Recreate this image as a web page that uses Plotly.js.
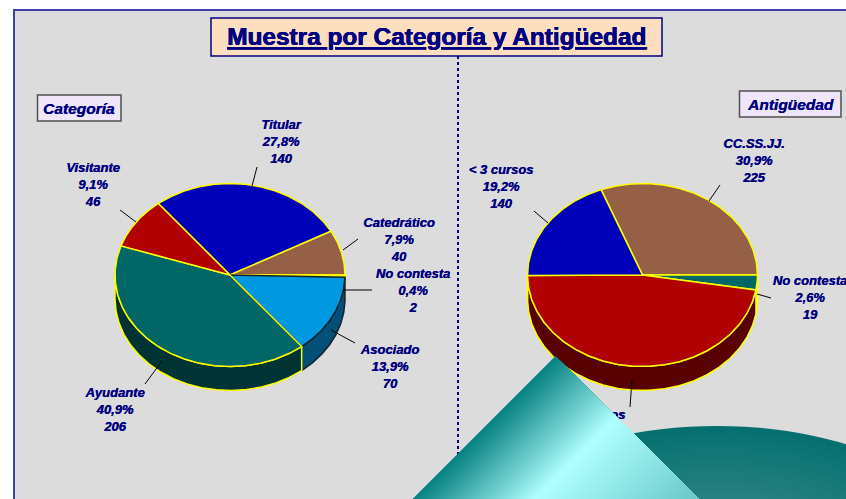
<!DOCTYPE html>
<html><head><meta charset="utf-8">
<script src="https://cdn.plot.ly/plotly-3.0.1.min.js"></script>
<style>html,body{margin:0;padding:0;background:#fff;overflow:hidden}#c{width:846px;height:499px}</style>
</head><body><div id="c"></div>
<script>
// ---- data ----
const catNames  = ['Titular','Catedrático','No contesta','Asociado','Ayudante','Visitante'];
const catValues = [140,40,2,70,206,46];
const catPct    = ['27,8%','7,9%','0,4%','13,9%','40,9%','9,1%'];
const antNames  = ['CC.SS.JJ.','No contesta','> 3 cursos','< 3 cursos'];
const antValues = [225,19,345,140];
const antPct    = ['30,9%','2,6%','47,3%','19,2%'];

// ---- styles and positions ----
const catFill = ['#0000b8','#956045','#e8e800','#0098e0','#006666','#b00000'];
const catWall = ['#000060','#4a3022','#808000','#005078','#003333','#580000'];
const catLine = ['#ffff00','#ffff00','#ffff00','#102030','#ffff00','#ffff00'];
const antFill = ['#956045','#006666','#b00000','#0000b8'];
const antWall = ['#4a3022','#003333','#580000','#000060'];
const antLine = ['#ffff00','#ffff00','#ffff00','#ffff00'];
const catLabelPos = [[281,142.5],[399,241],[413,291.5],[390,368],[115,411],[93,186]];
const antLabelPos = [[754,162],[810,299],[593,433],[501,188]];
const catLeaders = [[257,167,252,186],[358,239,343,250],[372,290,343,290],[355,343,331,330],[145,384,162,361],[120,210,136,222]];
const antLeaders = [[720,185,709,201],[771,298,757,294],[632,380,630,407],[534,211,548,223]];
const NAVY = '#000080', RX = 115, RY = 91.5, DEPTH = 24;
const FONT = 'Liberation Sans, Arial, sans-serif', THICK = '0.35px 0 0 #000080';

function arc(cx,cy,a0,a1){
  const xs=[],ys=[],n=Math.max(2,Math.ceil((a1-a0)/8));
  for(let i=0;i<=n;i++){const a=(a0+(a1-a0)*i/n)*Math.PI/180;xs.push(cx+RX*Math.sin(a));ys.push(cy-RY*Math.cos(a));}
  return [xs,ys];
}
function pie(cx,cy,values,startDeg,fills,walls,lines){
  const total=values.reduce((a,b)=>a+b,0), walltr=[], tops=[];
  let a=startDeg;
  values.forEach((v,i)=>{
    const a1=a+v/total*360;
    const lo=Math.max(a,90), hi=Math.min(a1,270);
    if(hi>lo){
      const [x,y]=arc(cx,cy,lo,hi);
      walltr.push({x:x.concat(x.slice().reverse(),[x[0]]),y:y.concat(y.map(q=>q+DEPTH).reverse(),[y[0]]),
        mode:'lines',fill:'toself',fillcolor:walls[i],line:{color:lines[i],width:1.5},hoverinfo:'skip',showlegend:false});
    }
    const [x,y]=arc(cx,cy,a,a1);
    tops.push({x:[cx].concat(x,[cx]),y:[cy].concat(y,[cy]),mode:'lines',fill:'toself',fillcolor:fills[i],
      line:{color:lines[i],width:1.5},hoverinfo:'skip',showlegend:false});
    a=a1;
  });
  return walltr.concat(tops);
}
function leaders(list){
  const x=[],y=[];list.forEach(l=>{x.push(l[0],l[2],null);y.push(l[1],l[3],null);});
  return {x,y,mode:'lines',line:{color:'#000000',width:1},hoverinfo:'skip',showlegend:false};
}
function labels(names,pct,vals,pos){
  return {x:pos.map(p=>p[0]),y:pos.map(p=>p[1]),mode:'text',
    text:names.map((n,i)=>n+'<br>'+pct[i]+'<br>'+vals[i]),
    textposition:'middle center',cliponaxis:true,
    textfont:{family:FONT,size:13,color:NAVY,weight:700,style:'italic',shadow:THICK},
    hoverinfo:'skip',showlegend:false};
}
const catStart = 90-(catValues[0]+catValues[1])/catValues.reduce((a,b)=>a+b,0)*360;
const antStart = 90-antValues[0]/antValues.reduce((a,b)=>a+b,0)*360;
const traces=[].concat(
  pie(230,275,catValues,catStart,catFill,catWall,catLine),
  pie(642.5,275,antValues,antStart,antFill,antWall,antLine),
  [leaders(catLeaders),leaders(antLeaders),
   labels(catNames,catPct,catValues,catLabelPos),
   labels(antNames,antPct,antValues,antLabelPos)]
);

function mix(c1,c2,t){return 'rgb('+c1.map((v,i)=>Math.round(v+(c2[i]-v)*t)).join(',')+')';}
const shapes=[
 {type:'rect',xref:'x',yref:'y',x0:14,y0:10,x1:900,y1:600,fillcolor:'#dcdcdc',line:{color:'#4040a8',width:2},layer:'below'},
 {type:'line',xref:'x',yref:'y',x0:458,y0:56,x1:458,y1:470,line:{color:NAVY,width:2,dash:'dot'},layer:'below'},
 {type:'rect',xref:'x',yref:'y',x0:211,y0:18,x1:662,y1:56,fillcolor:'#fddfc0',line:{color:NAVY,width:1.5},layer:'below'},
 {type:'rect',xref:'x',yref:'y',x0:37.5,y0:95,x1:121,y1:121,fillcolor:'#f0e6fa',line:{color:'#505050',width:1.5},layer:'below'},
 {type:'rect',xref:'x',yref:'y',x0:739.5,y0:91,x1:841,y1:117,fillcolor:'#f0e6fa',line:{color:'#505050',width:1.5},layer:'below'}
];
// decorative ellipse with banded radial shading
const EL=[717,576,270,150], bands=16;
for(let i=0;i<bands;i++){
  const k=1-i/bands*0.6, a=EL[2]*k, b=EL[3]*k;
  let p='';
  for(let d=0;d<360;d+=3){const r=d*Math.PI/180;p+=(d?'L ':'M ')+(EL[0]+a*Math.cos(r)).toFixed(1)+' '+(EL[1]+b*Math.sin(r)).toFixed(1)+' ';}
  shapes.push({type:'path',xref:'x',yref:'y',layer:'above',path:p+'Z',
    fillcolor:mix([6,112,112],[50,134,134],i/bands),line:{width:0}});
}
// decorative triangle with diagonal gradient
const S0=911.5,S1=1199.5,DH=199.5,DL=-140,strips=96;
const stops=[[0,[6,128,128]],[0.425,[176,255,255]],[1,[104,200,200]]];
function grad(t){for(let i=1;i<stops.length;i++){if(t<=stops[i][0]){const u=(t-stops[i-1][0])/(stops[i][0]-stops[i-1][0]);return mix(stops[i-1][1],stops[i][1],u);}}return mix(stops[2][1],stops[2][1],0);}
for(let i=0;i<strips;i++){
  const s0=S0+(S1-S0)*i/strips,s1=S1;
  const P=(s,d)=>((s+d)/2)+' '+((s-d)/2);
  shapes.push({type:'path',xref:'x',yref:'y',layer:'above',
    path:`M ${P(s0,DH)} L ${P(s1,DH)} L ${P(s1,DL)} L ${P(s0,DL)} Z`,
    fillcolor:grad((i+0.5)/strips),line:{width:0}});
}
const annotations=[
 {x:436.5,y:36,xref:'x',yref:'y',showarrow:false,text:'<u>Muestra por Categoría y Antigüedad</u>',
  font:{family:FONT,size:24.4,color:NAVY,weight:700,shadow:'0.4px 0 0 #000080'}},
 {x:79,y:108,xref:'x',yref:'y',showarrow:false,text:'Categoría',
  font:{family:FONT,size:15.5,color:NAVY,weight:700,style:'italic',shadow:THICK}},
 {x:790.5,y:104,xref:'x',yref:'y',showarrow:false,text:'Antigüedad',
  font:{family:FONT,size:15.5,color:NAVY,weight:700,style:'italic',shadow:THICK}}
];
const layout={width:846,height:499,margin:{l:0,r:0,t:0,b:0},paper_bgcolor:'#ffffff',plot_bgcolor:'rgba(0,0,0,0)',
 xaxis:{range:[0,846],visible:false,fixedrange:true},yaxis:{range:[499,0],visible:false,fixedrange:true},
 showlegend:false,shapes,annotations};
Plotly.newPlot('c',traces,layout,{displayModeBar:false,staticPlot:true});
</script></body></html>
